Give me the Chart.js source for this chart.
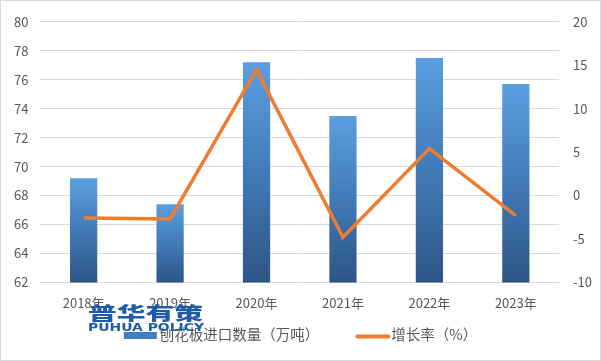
<!DOCTYPE html>
<html>
<head>
<meta charset="utf-8">
<script src="https://cdn.jsdelivr.net/npm/chart.js@4"></script>
<style>
  html, body { margin: 0; padding: 0; background: #fff; }
  #wrap { width: 601px; height: 361px; position: relative; }
</style>
</head>
<body>
<div id="wrap"><canvas id="chart" width="601" height="361"></canvas></div>
<script>
const years = ['2018年', '2019年', '2020年', '2021年', '2022年', '2023年'];
const importVolume = [69.2, 67.4, 77.2, 73.5, 77.5, 75.7];
const growthRate = [-2.6, -2.7, 14.5, -4.8, 5.4, -2.3];
const leftTicks = [62, 80, 2];
const rightTicks = [-10, 20, 5];

const FONT = '"Noto Sans CJK SC", "Microsoft YaHei", sans-serif';
const TEXT = '#595959';
const BAR_SWATCH = '#3f7cc0';

// legend under the x axis, bar first then line
const bottomLegend = {
    id: 'bottomLegend',
    afterDraw(chart) {
        const c = chart.ctx;
        const items = chart.data.datasets.slice().reverse();
        const swatchW = 33, gap = 3, between = 36, cy = 334;
        c.save();
        c.font = '14.5px ' + FONT;
        c.textBaseline = 'middle';
        const widths = items.map(d => c.measureText(d.label).width);
        let total = widths.reduce((a, w) => a + swatchW + gap + w, 0) + between * (items.length - 1);
        let x = chart.width / 2 - total / 2;
        items.forEach((d, i) => {
            if (d.type === 'bar') {
                c.fillStyle = BAR_SWATCH;
                c.fillRect(x, cy - 2, swatchW, 7);
            } else {
                c.strokeStyle = d.borderColor;
                c.lineWidth = 4;
                c.lineCap = 'round';
                c.beginPath();
                c.moveTo(x + 2, cy + 2.5);
                c.lineTo(x + swatchW, cy + 2.5);
                c.stroke();
            }
            c.fillStyle = TEXT;
            c.fillText(d.label, x + swatchW + gap, cy);
            x += swatchW + gap + widths[i] + between;
        });
        c.restore();
    }
};

// frame + watermark
const extras = {
    id: 'extras',
    afterDraw(chart) {
        const c = chart.ctx;
        c.save();
        c.strokeStyle = '#d9d9d9';
        c.lineWidth = 1;
        c.strokeRect(0.5, 0.5, 600, 360);

        c.fillStyle = '#1f5ba6';
        c.textBaseline = 'alphabetic';
        c.font = '900 18px ' + FONT;
        let w = c.measureText('普华有策').width;
        c.save();
        c.translate(88, 320);
        c.scale(115 / w, 1);
        c.fillText('普华有策', 0, 0);
        c.restore();

        c.font = 'bold 11px "DejaVu Sans", sans-serif';
        w = c.measureText('PUHUA POLICY').width;
        c.save();
        c.translate(88, 331);
        c.scale(116 / w, 1);
        c.fillText('PUHUA POLICY', 0, 0);
        c.restore();
        c.restore();
    }
};

new Chart(document.getElementById('chart'), {
    data: {
        labels: years,
        datasets: [{
            type: 'line',
            label: '增长率（%）',
            data: growthRate,
            yAxisID: 'y1',
            borderColor: '#ed7d31',
            backgroundColor: '#ed7d31',
            borderWidth: 3.5,
            pointRadius: 0,
            tension: 0,
            order: 0
        }, {
            type: 'bar',
            label: '刨花板进口数量（万吨）',
            data: importVolume,
            yAxisID: 'y',
            barPercentage: 0.315,
            categoryPercentage: 1,
            order: 1,
            backgroundColor: ctx => {
                const chart = ctx.chart;
                if (!chart.chartArea || ctx.type !== 'data') return BAR_SWATCH;
                const y = chart.scales.y;
                const top = y.getPixelForValue(ctx.raw);
                const bottom = y.getPixelForValue(leftTicks[0]);
                const g = chart.ctx.createLinearGradient(0, top, 0, bottom);
                g.addColorStop(0, '#5b9fe0');
                g.addColorStop(0.5, '#427ab8');
                g.addColorStop(1, '#2c5584');
                return g;
            }
        }]
    },
    options: {
        responsive: false,
        animation: false,
        layout: { padding: { top: 10, left: 2, right: 0, bottom: 45 } },
        plugins: {
            tooltip: { enabled: false },
            legend: { display: false }
        },
        scales: {
            x: {
                grid: { display: false },
                border: { display: false },
                ticks: { color: TEXT, font: { family: FONT, size: 13 }, padding: 5 }
            },
            y: {
                position: 'left',
                min: leftTicks[0],
                max: leftTicks[1],
                ticks: { stepSize: leftTicks[2], color: TEXT, font: { family: FONT, size: 13 }, padding: 12 },
                grid: { color: '#d9d9d9', drawTicks: false },
                border: { display: false }
            },
            y1: {
                position: 'right',
                min: rightTicks[0],
                max: rightTicks[1],
                ticks: { stepSize: rightTicks[2], color: TEXT, font: { family: FONT, size: 13 }, padding: 14, align: 'center' },
                grid: { drawOnChartArea: false, drawTicks: false },
                border: { display: false },
                afterFit: s => { s.width -= 5; }
            }
        }
    },
    plugins: [bottomLegend, extras]
});
</script>
</body>
</html>
